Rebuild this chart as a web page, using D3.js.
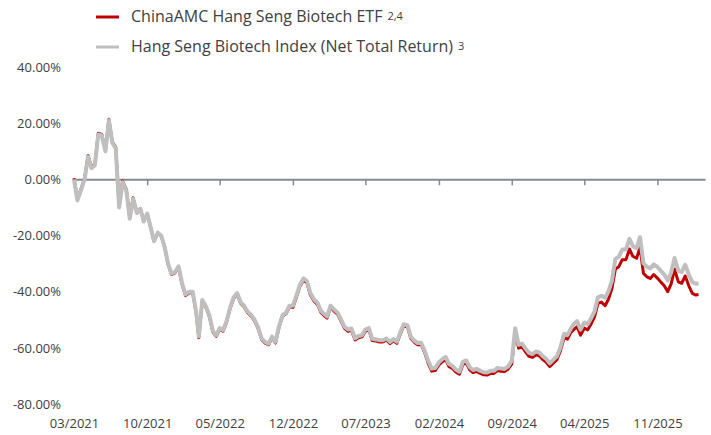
<!DOCTYPE html>
<html>
<head>
<meta charset="utf-8">
<script src="https://cdn.jsdelivr.net/npm/d3@7"></script>
<style>
  body { margin: 0; background: #fff; }
  text { font-family: "Open Sans", sans-serif; }
</style>
</head>
<body>
<script>
// DATA
var dates = [
  "2021-03-01","2021-03-11","2021-03-21","2021-04-01","2021-04-11","2021-04-21","2021-05-01","2021-05-11","2021-05-21",
  "2021-06-01","2021-06-11","2021-06-21","2021-07-01","2021-07-11","2021-07-21","2021-08-01","2021-08-11","2021-08-21",
  "2021-09-01","2021-09-11","2021-09-21","2021-10-01","2021-10-11","2021-10-21","2021-11-01","2021-11-11","2021-11-21",
  "2021-12-01","2021-12-11","2021-12-21",
  "2022-01-01","2022-01-11","2022-01-21","2022-02-01","2022-02-11","2022-02-21","2022-03-01","2022-03-11","2022-03-21",
  "2022-04-01","2022-04-11","2022-04-21","2022-05-01","2022-05-11","2022-05-21","2022-06-01","2022-06-11","2022-06-21",
  "2022-07-01","2022-07-11","2022-07-21","2022-08-01","2022-08-11","2022-08-21","2022-09-01","2022-09-11","2022-09-21",
  "2022-10-01","2022-10-11","2022-10-21","2022-11-01","2022-11-11","2022-11-21","2022-12-01","2022-12-11","2022-12-21",
  "2023-01-01","2023-01-11","2023-01-21","2023-02-01","2023-02-11","2023-02-21","2023-03-01","2023-03-11","2023-03-21",
  "2023-04-01","2023-04-11","2023-04-21","2023-05-01","2023-05-11","2023-05-21","2023-06-01","2023-06-11","2023-06-21",
  "2023-07-01","2023-07-11","2023-07-21","2023-08-01","2023-08-11","2023-08-21","2023-09-01","2023-09-11","2023-09-21",
  "2023-10-01","2023-10-11","2023-10-21","2023-11-01","2023-11-11","2023-11-21","2023-12-01","2023-12-11","2023-12-21",
  "2024-01-01","2024-01-11","2024-01-21","2024-02-01","2024-02-11","2024-02-21","2024-03-01","2024-03-11","2024-03-21",
  "2024-04-01","2024-04-11","2024-04-21","2024-05-01","2024-05-11","2024-05-21","2024-06-01","2024-06-11","2024-06-21",
  "2024-07-01","2024-07-11","2024-07-21","2024-08-01","2024-08-11","2024-08-21","2024-09-01","2024-09-11","2024-09-21",
  "2024-10-01","2024-10-11","2024-10-21","2024-11-01","2024-11-11","2024-11-21","2024-12-01","2024-12-11","2024-12-21",
  "2025-01-01","2025-01-11","2025-01-21","2025-02-01","2025-02-11","2025-02-21","2025-03-01","2025-03-11","2025-03-21",
  "2025-04-01","2025-04-11","2025-04-21","2025-05-01","2025-05-11","2025-05-21","2025-06-01","2025-06-11","2025-06-21",
  "2025-07-01","2025-07-11","2025-07-21","2025-08-01","2025-08-11","2025-08-21","2025-09-01","2025-09-11","2025-09-21",
  "2025-10-01","2025-10-11","2025-10-21","2025-11-01","2025-11-11","2025-11-21","2025-12-01","2025-12-11","2025-12-21",
  "2026-01-01","2026-01-11","2026-01-21","2026-02-01","2026-02-11","2026-02-21","2026-03-01"
];

// cumulative return, %
var etfValues = [
  0.4, -7.1, -3.6, 0.4, 8.4, 4.4, 5.4, 16.4, 16.0,
  10.4, 21.4, 13.4, 11.4, -9.6, -0.6, -3.6, -13.6, -6.6,
  -11.9, -10.4, -14.9, -12.2, -17.0, -22.1, -19.1, -20.2, -24.2,
  -30.2, -33.9, -33.3,
  -31.4, -37.4, -41.4, -40.4, -40.4, -47.4, -56.4, -43.4, -45.4,
  -48.9, -54.4, -55.9, -53.4, -54.1, -50.9, -45.8, -42.4, -40.9,
  -44.1, -45.4, -47.4, -48.7, -50.4, -53.0, -57.1, -58.3, -58.9,
  -56.4, -58.3, -52.9, -48.7, -47.9, -45.4, -45.6, -42.1, -38.3,
  -35.9, -36.8, -41.1, -43.4, -44.6, -47.4, -48.4, -49.4, -45.6,
  -47.0, -48.1, -50.6, -53.1, -54.1, -53.7, -57.2, -56.4, -56.1,
  -54.1, -53.6, -57.4, -57.6, -57.9, -57.9, -57.3, -58.5, -57.5,
  -58.4, -55.1, -52.2, -52.6, -56.7, -58.0, -58.9, -58.8, -61.6,
  -65.6, -68.3, -68.1, -66.1, -64.9, -64.2, -66.6, -67.3, -68.6,
  -69.4, -65.9, -65.4, -67.8, -68.8, -68.4, -69.1, -69.6, -69.7,
  -69.1, -69.1, -68.1, -68.3, -68.4, -67.6, -65.8, -54.2, -60.1,
  -59.7, -61.4, -63.0, -63.4, -62.5, -62.9, -64.2, -65.2, -66.7,
  -65.4, -64.2, -61.2, -56.4, -56.9, -54.5, -53.5, -52.5, -55.5,
  -53.0, -53.6, -51.5, -49.0, -44.2, -43.7, -45.0, -42.6, -38.8,
  -31.9, -31.1, -28.6, -28.6, -24.8, -27.4, -28.1, -24.2, -33.5,
  -34.7, -35.3, -33.9, -35.2, -36.6, -37.9, -40.0, -37.2, -32.0,
  -36.5, -37.0, -34.4, -38.0, -40.6, -41.2, -41.0
];

var indexValues = [
  0, -7.5, -4, 0, 8, 4, 5, 16, 15.6,
  10, 21, 13, 11, -10, -1, -4, -14, -7,
  -12, -10.5, -15, -12.2, -17, -22, -19, -20, -24,
  -30, -33.6, -33,
  -31, -37, -41, -40, -40, -47, -56, -43, -45,
  -48.5, -54, -55.5, -53, -53.7, -50.5, -45.4, -42, -40.5,
  -43.7, -45, -47, -48.3, -50, -52.6, -56.7, -57.9, -58.5,
  -56, -57.9, -52.5, -48.3, -47.5, -45, -45, -41.5, -37.7,
  -35.3, -36.2, -40.5, -42.8, -44, -46.8, -47.8, -48.8, -45,
  -46.4, -47.5, -50, -52.5, -53.5, -53.1, -56.6, -55.8, -55.5,
  -53.5, -53, -56.8, -57, -57.3, -57.3, -56.7, -57.9, -56.9,
  -57.8, -54.5, -51.6, -52, -56.1, -57.4, -58.3, -58.2, -61,
  -64.7, -67.4, -67.2, -65.2, -64, -63.3, -65.7, -66.4, -67.7,
  -68.5, -65, -64.5, -66.9, -67.9, -67.5, -68.2, -68.7, -68.8,
  -68.2, -68.2, -67.2, -67.4, -67.5, -66.7, -64.6, -53, -58.9,
  -58.5, -60.2, -61.8, -62.2, -61.3, -61.7, -63, -64, -65.5,
  -64.2, -63, -60, -55, -55.5, -53.1, -51.5, -50.5, -53.5,
  -51, -51.6, -49.5, -47, -42, -41.5, -42.2, -39.8, -36,
  -28.3, -27.5, -25, -25, -21.2, -23.8, -24.5, -20.6, -29.9,
  -31.1, -31.7, -30.3, -31.2, -32.6, -33.9, -36, -33.2, -28,
  -32.5, -33, -30.4, -34, -36.6, -37.2, -37
];

var xTickDates = ["2021-03-01","2021-10-01","2022-05-01","2022-12-01","2023-07-01","2024-02-01","2024-09-01","2025-04-01","2025-11-01"];
var yTickValues = [40, 20, 0, -20, -40, -60, -80];
var seriesNames = ["ChinaAMC Hang Seng Biotech ETF", "Hang Seng Biotech Index (Net Total Return)"];
var seriesNotes = ["2,4", "3"];
var seriesColors = ["#c00000", "#bfbfbf"];

// D3
var svg = d3.select("body")
    .append("svg")
    .attr("width", 711)
    .attr("height", 435);

const parse = d3.timeParse("%Y-%m-%d");

const xScale = d3.scaleTime()
    .domain([parse("2021-03-01"), parse("2026-03-20")])
    .range([74, 705]);

const yScale = d3.scaleLinear()
    .domain([-80, 40])
    .range([404, 67]);

// y labels, no axis line
const yAxis = svg.append("g")
    .attr("transform", "translate(61,0)")
    .call(d3.axisLeft(yScale).tickValues(yTickValues).tickSize(0).tickPadding(0)
        .tickFormat(d => d.toFixed(2) + "%"));
yAxis.select(".domain").remove();
yAxis.selectAll("text").attr("font-size", 13).attr("fill", "#404040")
    .style("font-family", "'Open Sans', sans-serif");

// zero line with ticks
const zeroAxis = svg.append("g")
    .attr("transform", "translate(0," + yScale(0) + ")")
    .call(d3.axisBottom(xScale).tickValues(xTickDates.map(parse))
        .tickSize(6).tickSizeOuter(0).tickFormat(""));
zeroAxis.select(".domain").attr("stroke", "#868a8e").attr("stroke-width", 2);
zeroAxis.selectAll(".tick line").attr("stroke", "#868a8e").attr("stroke-width", 1.5);

// date labels at the bottom
const xLabels = svg.append("g")
    .attr("transform", "translate(0,416)")
    .call(d3.axisBottom(xScale).tickValues(xTickDates.map(parse))
        .tickSize(0).tickPadding(3).tickFormat(d3.timeFormat("%m/%Y")));
xLabels.select(".domain").remove();
xLabels.selectAll("text").attr("font-size", 13).attr("fill", "#404040")
    .style("font-family", "'Open Sans', sans-serif");

// lines
const etfData = dates.map((d, i) => ({date: parse(d), v: etfValues[i]}));
const idxData = dates.map((d, i) => ({date: parse(d), v: indexValues[i]}));

const line = d3.line()
    .x(d => xScale(d.date))
    .y(d => yScale(d.v));

svg.append("path").datum(etfData)
    .attr("d", line)
    .attr("fill", "none")
    .attr("stroke", seriesColors[0])
    .attr("stroke-width", 3)
    .attr("stroke-linejoin", "round");

svg.append("path").datum(idxData)
    .attr("d", line)
    .attr("fill", "none")
    .attr("stroke", seriesColors[1])
    .attr("stroke-width", 4)
    .attr("stroke-linejoin", "round");

// legend
const legend = svg.append("g");
seriesNames.forEach(function(name, i) {
    const cy = 17 + i * 30;
    legend.append("line")
        .attr("x1", 96).attr("x2", 119)
        .attr("y1", cy).attr("y2", cy)
        .attr("stroke", seriesColors[i])
        .attr("stroke-width", 3);
    const t = legend.append("text")
        .attr("x", 131).attr("y", cy + 4)
        .attr("dy", "0.05em")
        .attr("font-size", 16)
        .attr("fill", "#404040")
        .text(name);
    t.append("tspan")
        .attr("dx", 5).attr("dy", -2)
        .attr("font-size", 11)
        .text(seriesNotes[i]);
});
</script>
</body>
</html>
